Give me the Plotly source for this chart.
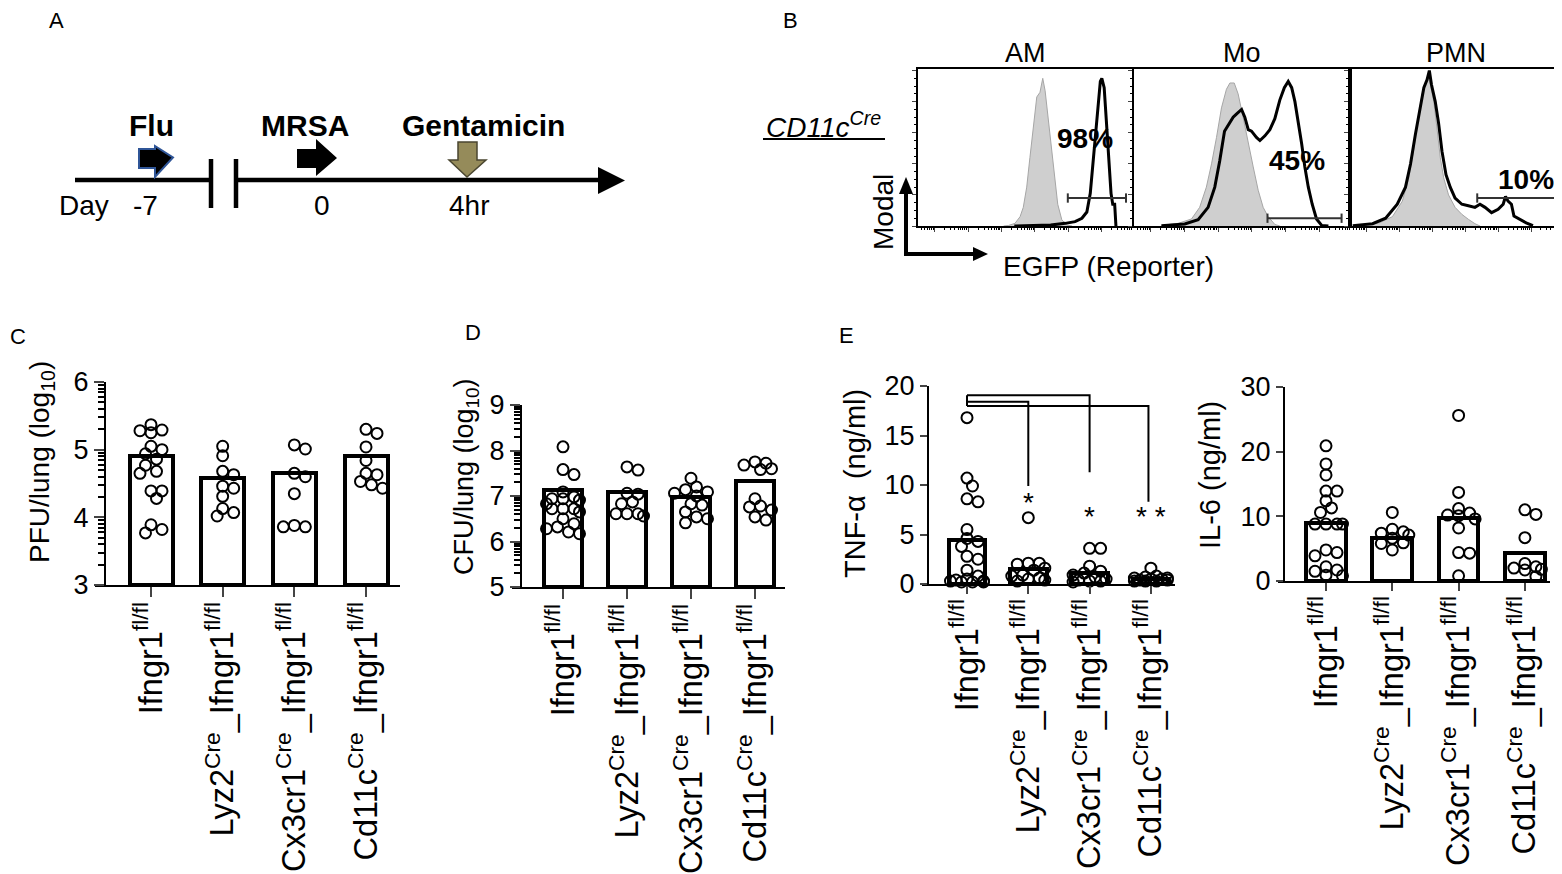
import math

import plotly.graph_objects as go

# the page body has an 8px margin, so the figure is laid out in page pixels
# shifted by that margin
PAGE_W, PAGE_H, PAD = 1562, 874, 8
W, H = PAGE_W - PAD, PAGE_H - PAD
FONT = "Arial, 'Liberation Sans', sans-serif"

# ---- data -------------------------------------------------------------
groups = [
    "Ifngr1<sup>fl/fl</sup>",
    "Lyz2<sup>Cre</sup>_Ifngr1<sup>fl/fl</sup>",
    "Cx3cr1<sup>Cre</sup>_Ifngr1<sup>fl/fl</sup>",
    "Cd11c<sup>Cre</sup>_Ifngr1<sup>fl/fl</sup>",
]

pfu_bars = [4.9, 4.58, 4.65, 4.9]
pfu_points = [
    [5.37, 5.29, 5.28, 5.25, 5.05, 5.0, 4.94, 4.86, 4.77, 4.68, 4.65, 4.39, 4.39, 4.28, 3.89, 3.82, 3.77],
    [5.05, 4.91, 4.68, 4.63, 4.46, 4.43, 4.31, 4.13, 4.07, 4.02],
    [5.07, 5.01, 4.65, 4.6, 4.35, 3.88, 3.86, 3.86],
    [5.3, 5.24, 5.04, 4.84, 4.65, 4.63, 4.53, 4.48, 4.43],
]

cfu_bars = [7.14, 7.08, 6.98, 7.33]
cfu_points = [
    [8.08, 7.58, 7.47, 7.09, 6.98, 6.94, 6.94, 6.91, 6.83, 6.72, 6.72, 6.72, 6.65, 6.5, 6.39, 6.32, 6.28, 6.21, 6.17],
    [7.64, 7.57, 7.06, 7.04, 6.87, 6.83, 6.61, 6.61, 6.61, 6.56],
    [7.39, 7.2, 7.14, 7.09, 7.06, 7.0, 6.83, 6.8, 6.65, 6.54, 6.5, 6.41],
    [7.75, 7.72, 7.68, 7.6, 7.58, 6.94, 6.78, 6.76, 6.69, 6.54, 6.47],
]

tnf_bars = [4.4, 1.5, 1.1, 0.5]
tnf_points = [
    [16.8, 10.7, 9.9, 8.6, 8.3, 5.5, 4.6, 4.3, 3.8, 2.8, 2.5, 1.4, 0.8, 0.5, 0.4, 0.3, 0.3, 0.2, 0.2, 0.2],
    [6.7, 2.1, 2.1, 2.0, 1.6, 1.4, 0.9, 0.8, 0.6, 0.5, 0.4, 0.3],
    [3.6, 3.6, 1.8, 1.3, 1.1, 0.9, 0.7, 0.5, 0.4, 0.3, 0.3, 0.2],
    [1.6, 0.8, 0.7, 0.6, 0.6, 0.5, 0.5, 0.4, 0.4, 0.3, 0.3, 0.3],
]
tnf_stars = ["*", "*", "* *"]

il6_bars = [8.9, 6.6, 9.7, 4.3]
il6_points = [
    [20.9, 18.1, 16.4, 13.9, 13.9, 12.4, 11.3, 10.6, 8.8, 8.8, 8.8, 8.8, 4.8, 4.4, 3.9, 2.2, 1.7, 1.5, 0.9, 0.8],
    [10.6, 8.0, 7.6, 7.4, 7.1, 6.6, 5.9, 5.8, 4.8],
    [25.6, 13.7, 11.2, 10.5, 10.2, 10.1, 9.6, 8.2, 4.4, 4.3, 0.8],
    [11.0, 10.3, 6.7, 2.7, 2.2, 2.0, 1.8, 1.7, 0.7],
]

# flow histograms: x = reporter channel (0-100), y = % of mode
am_ctrl_x = [40, 42.2, 45.3, 47.7, 49.2, 50.8, 52.3, 53.9, 55.5, 57.0, 58.3, 59.4, 60.6, 62.2, 63.8, 65.3, 67.2, 69.5, 72]
am_ctrl_y = [0, 0.3, 1.7, 6, 12, 25, 44, 63, 83, 86, 95, 87, 72, 51, 29, 14, 4, 0.6, 0]
am_rep_x = [45, 55, 62, 68.8, 73.4, 76.6, 78.9, 80.5, 81.6, 82.8, 84.1, 85.2, 85.9, 87.0, 88.0, 89.1, 90.2, 91.0, 91.9, 92.5]
am_rep_y = [0, 0.4, 0.6, 1.7, 2.8, 5, 9, 21, 38, 59, 80, 93, 95, 89, 68, 42, 21, 14, 14, 0]

mo_ctrl_x = [12.7, 20.4, 26.6, 30.4, 33.5, 35.9, 38.2, 40.5, 42.8, 44.4, 46.4, 48.2, 50.5, 52.9, 55.2, 57.5, 59.8, 62.1, 65.2, 67.5]
mo_ctrl_y = [0.4, 1.7, 4.5, 12, 25, 40, 57, 76, 88, 92, 92, 85, 70, 53, 38, 23, 12, 6, 1, 0]
mo_rep_x = [12.7, 23.5, 29.7, 34.3, 37.4, 39.7, 41.9, 43.6, 45.9, 47.4, 49.8, 51.3, 52.9, 54.4, 56.7, 58.3,
            60.6, 62.9, 65.2, 67.5, 69.6, 71.4, 73.0, 74.5, 76.0, 77.6, 79.1, 80.7, 82.5, 84.5, 86.9, 90.0]
mo_rep_y = [0.2, 1.3, 4, 12, 25, 42, 61, 65, 70, 72, 75, 70, 62, 61, 57, 55,
            58, 62, 69, 81, 89, 93, 89, 80, 68, 53, 38, 25, 14, 4.5, 0.4, 0]

pmn_ctrl_x = [6.0, 13.8, 20.1, 24.8, 27.9, 30.3, 32.3, 34.2, 35.7, 37.0, 38.1, 39.7, 41.2, 42.8, 44.4, 46.7, 49.8, 53.0, 56.1, 59.2, 61.6]
pmn_ctrl_y = [0.2, 2, 6, 16, 31, 50, 70, 85, 92, 96, 91, 80, 63, 44, 31, 20, 12, 7.5, 4.3, 1.5, 0]
pmn_rep_x = [1.3, 10.7, 16.9, 22.4, 26.3, 28.7, 31.0, 32.9, 35.0, 36.5, 37.6, 38.6, 40.4, 42.0, 43.6, 45.5, 47.5,
             49.8, 53.0, 56.1, 59.2, 61.6, 64.0, 67.1, 70.2, 72.6, 73.7, 74.9, 76.5, 77.7, 80.4, 83.5, 86.7]
pmn_rep_y = [0.2, 1.5, 5, 14, 25, 40, 59, 74, 89, 94, 100, 91, 80, 66, 48, 33, 25,
             18, 14, 13, 12, 14, 12, 8.6, 10.7, 14, 19, 16, 14, 6.4, 4.3, 2, 0.2]

hist_titles = ["AM", "Mo", "PMN"]
hist_pct = ["98%", "45%", "10%"]
gate_lo = [70, 61.8, 60.3]
gate_hi = [97.2, 96.1, 98.1]


# ---- helpers ----------------------------------------------------------
def px(x):
    return (x - PAD) / W


def py(y):
    return 1 - (y - PAD) / H


def swarm_offsets(vals, ppu_y, ppu_x, diam=11.0, max_px=20.0):
    """Simple beeswarm: spread overlapping points sideways (in pixels)."""
    step = diam * 0.5
    cands = [0.0]
    k = 1
    while k * step <= max_px:
        cands += [k * step, -k * step]
        k += 1
    placed, offs = [], [0.0] * len(vals)
    for i in sorted(range(len(vals)), key=lambda j: -vals[j]):
        yp = vals[i] * ppu_y
        best, best_cost = 0.0, None
        for c in cands:
            cost = sum(max(0.0, diam * 0.8 - math.hypot(p - c, q - yp)) for p, q in placed)
            if best_cost is None or cost < best_cost - 1e-9:
                best, best_cost = c, cost
            if cost == 0:
                break
        placed.append((best, yp))
        offs[i] = best / ppu_x
    return offs


fig = go.Figure()
layout = {}
shapes = []
annotations = []

# bar panels: (x_left, x_right, y_axis_x, first_center, spacing, y_top, y_bottom, ymin, ymax)
panels = [
    dict(box=(95, 400, 105, 151, 71.67, 382, 585, 3, 6), bars=pfu_bars, pts=pfu_points,
         ticks=[3, 4, 5, 6], log_minor=True),
    dict(box=(512, 785, 521, 563, 64.0, 405, 587, 5, 9), bars=cfu_bars, pts=cfu_points,
         ticks=[5, 6, 7, 8, 9], log_minor=True),
    dict(box=(922, 1175, 928, 967, 61.3, 386, 584, 0, 20), bars=tnf_bars, pts=tnf_points,
         ticks=[0, 5, 10, 15, 20], log_minor=False),
    dict(box=(1278, 1550, 1284, 1326, 66.3, 387, 581, 0, 30), bars=il6_bars, pts=il6_points,
         ticks=[0, 10, 20, 30], log_minor=False),
]

for n, p in enumerate(panels, start=1):
    xl, xr, yx, c0, sp, yt, yb, y0, y1 = p["box"]
    sfx = "" if n == 1 else str(n)
    ppu_y = (yb - yt) / (y1 - y0)
    idx = list(range(len(groups)))
    fig.add_trace(go.Bar(
        x=idx, y=[b - y0 for b in p["bars"]], base=y0, width=0.6,
        marker=dict(color="white", line=dict(color="black", width=4)),
        xaxis="x" + sfx, yaxis="y" + sfx, hoverinfo="skip",
    ))
    xs, ys = [], []
    for g, vals in enumerate(p["pts"]):
        offs = swarm_offsets(vals, ppu_y, sp)
        xs += [g + o for o in offs]
        ys += vals
    fig.add_trace(go.Scatter(
        x=xs, y=ys, mode="markers", cliponaxis=False,
        marker=dict(symbol="circle-open", size=11, color="black", line=dict(width=2)),
        xaxis="x" + sfx, yaxis="y" + sfx,
    ))
    layout["xaxis" + sfx] = dict(
        domain=[px(xl), px(xr)], range=[(xl - c0) / sp, (xr - c0) / sp], anchor="y" + sfx,
        tickmode="array", tickvals=idx, ticktext=groups, tickangle=-90,
        tickfont=dict(size=32.5), ticklabelstandoff=-8,
        ticks="outside", ticklen=10 if p["log_minor"] else 8, tickwidth=2,
        showline=True, linewidth=2, linecolor="black",
        showgrid=False, zeroline=False, automargin=False, fixedrange=True,
    )
    yax = dict(
        domain=[py(yb), py(yt)], range=[y0, y1], anchor="free", position=px(yx),
        tickmode="array", tickvals=p["ticks"], tickfont=dict(size=27),
        ticks="outside", ticklen=10 if p["log_minor"] else 7, tickwidth=2,
        showline=True, linewidth=2, linecolor="black",
        showgrid=False, zeroline=False, automargin=False, fixedrange=True,
    )
    if p["log_minor"]:
        yax["minor"] = dict(
            tickmode="array", ticks="outside", ticklen=6, tickwidth=1.5, tickcolor="black",
            tickvals=[d + math.log10(m) for d in range(y0, y1) for m in range(2, 10)],
        )
    layout["yaxis" + sfx] = yax

# significance brackets on TNF panel
br_h = [18.4, 19.06, 17.98]
br_low = [9.9, 11.3, 8.3]
shapes.append(dict(type="line", xref="x3", yref="y3", x0=0, x1=0, y0=17.98, y1=19.06,
                   line=dict(color="black", width=2)))
for j in range(3):
    xe = j + 1 - 0.04 * (j == 2)
    shapes.append(dict(type="path", xref="x3", yref="y3",
                       path=f"M 0,{br_h[j]} L {xe},{br_h[j]} L {xe},{br_low[j]}",
                       line=dict(color="black", width=2)))
star_y = [8.2, 6.8, 6.8]
for j, s in enumerate(tnf_stars):
    annotations.append(dict(xref="x3", yref="y3", x=j + 1, y=star_y[j], text=s, showarrow=False,
                            xanchor="center", yanchor="middle", font=dict(size=28)))

# flow histograms
hist_boxes = [(918, 1132), (1134, 1350), (1350, 1561)]
hist_data = [
    (am_ctrl_x, am_ctrl_y, am_rep_x, am_rep_y),
    (mo_ctrl_x, mo_ctrl_y, mo_rep_x, mo_rep_y),
    (pmn_ctrl_x, pmn_ctrl_y, pmn_rep_x, pmn_rep_y),
]
pct_pos = [(78, 56), (75.3, 42), (83.5, 30)]
gate_y = [18, 5, 18]
dec = 15.6
x_major = [7.8 + dec * k for k in range(6)]
x_minor = [7.8 + dec * k + dec * math.log10(m) for k in range(-1, 6) for m in range(2, 10)]
x_minor = [v for v in x_minor if 0 < v < 100]
for i, ((hl, hr), (cx, cy, rx, ry)) in enumerate(zip(hist_boxes, hist_data)):
    sfx = str(5 + i)
    fig.add_trace(go.Scatter(x=cx, y=cy, mode="lines", fill="tozeroy", fillcolor="#cfcfcf",
                             line=dict(color="#a6a6a6", width=1), xaxis="x" + sfx, yaxis="y" + sfx))
    fig.add_trace(go.Scatter(x=rx, y=ry, mode="lines", line=dict(color="black", width=3),
                             xaxis="x" + sfx, yaxis="y" + sfx))
    layout["xaxis" + sfx] = dict(
        domain=[px(hl), px(hr)], range=[0, 100], anchor="y" + sfx,
        showline=True, mirror=True, linecolor="black", linewidth=1.5,
        tickmode="array", tickvals=x_major, ticks="outside", ticklen=4, tickwidth=1,
        minor=dict(tickmode="array", tickvals=x_minor, ticks="outside", ticklen=2, tickwidth=1,
                   tickcolor="black"),
        showticklabels=False, showgrid=False, zeroline=False, fixedrange=True,
    )
    layout["yaxis" + sfx] = dict(
        domain=[py(226), py(69)], range=[0, 101], anchor="x" + sfx,
        showline=True, mirror=True, linecolor="black", linewidth=1.5,
        tickmode="linear", tick0=0, dtick=20, ticks="outside", ticklen=4, tickwidth=1,
        minor=dict(dtick=5, ticks="outside", ticklen=2, tickwidth=1, tickcolor="black"),
        showticklabels=False, showgrid=False, zeroline=False, fixedrange=True,
    )
    shapes.append(dict(type="line", xref="x" + sfx, yref="y" + sfx, x0=gate_lo[i], x1=gate_hi[i],
                       y0=gate_y[i], y1=gate_y[i], line=dict(color="#333333", width=2)))
    for gx in (gate_lo[i], gate_hi[i]):
        shapes.append(dict(type="line", xref="x" + sfx, yref="y" + sfx, x0=gx, x1=gx,
                           y0=gate_y[i] - 3, y1=gate_y[i] + 3, line=dict(color="#333333", width=2)))
    annotations.append(dict(xref="x" + sfx, yref="y" + sfx, x=pct_pos[i][0], y=pct_pos[i][1],
                            text="<b>" + hist_pct[i] + "</b>", showarrow=False,
                            xanchor="center", yanchor="middle", font=dict(size=28)))
    annotations.append(dict(xref="paper", yref="paper", x=px((hl + hr) / 2), y=py(53),
                            text=hist_titles[i], showarrow=False,
                            xanchor="center", yanchor="middle", font=dict(size=27)))


def label(x, y, text, size=28, angle=0, xanchor="center"):
    annotations.append(dict(xref="paper", yref="paper", x=px(x), y=py(y), text=text,
                            showarrow=False, textangle=angle, font=dict(size=size),
                            xanchor=xanchor, yanchor="middle"))


def poly(points, fill, line_color="black", width=0):
    path = "M " + " L ".join(f"{px(a)},{py(b)}" for a, b in points) + " Z"
    shapes.append(dict(type="path", xref="paper", yref="paper", path=path, fillcolor=fill,
                       line=dict(color=line_color, width=width)))


def seg(x0, y0, x1, y1, width=4.5, color="black"):
    shapes.append(dict(type="line", xref="paper", yref="paper", x0=px(x0), y0=py(y0),
                       x1=px(x1), y1=py(y1), line=dict(color=color, width=width)))


# panel letters
for t, (x, y) in zip("ABDE", [(57, 21), (790, 21), (473, 332), (847, 335)]):
    label(x, y, t, size=22)
label(PAD, 336, "C", size=22, xanchor="left")

# panel A timeline
seg(75, 180, 211, 180)
seg(211, 159, 211, 208)
seg(236, 159, 236, 208)
seg(236, 180, 602, 180)
poly([(598, 167), (625, 180.5), (598, 194)], "black")
poly([(139, 149), (155, 149), (155, 146), (173, 157.5), (155, 177), (155, 168), (139, 168)],
     "black", "#2f5597", 2)
poly([(297, 149), (316, 149), (316, 139), (337, 158), (316, 176), (316, 168), (297, 168)], "black")
poly([(458, 142), (477, 142), (477, 160), (486, 160), (467, 177), (449, 160), (458, 160)],
     "#958b5a", "#4a4630", 1.5)
label(151, 125, "<b>Flu</b>", 30)
label(305, 125, "<b>MRSA</b>", 30)
label(484, 125, "<b>Gentamicin</b>", 30)
label(84, 205, "Day", 28)
label(145, 205, "-7", 28)
label(322, 205, "0", 28)
label(469, 205, "4hr", 28)

# panel B labels and axis arrows
label(824, 125, "<i>CD11c<sup>Cre</sup></i>", 28)
seg(763, 139, 885, 139, width=2)
label(883, 212, "Modal", 28, angle=-90)
seg(906, 256, 906, 192, width=4)
poly([(899, 194), (913, 194), (906, 177)], "black")
seg(904, 254, 975, 254, width=4)
poly([(973, 247), (973, 261), (988, 254)], "black")
label(1108, 266, "EGFP (Reporter)", 28)

# axis titles of bar panels
label(41, 462, "PFU/lung (log<sub>10</sub>)", 28, angle=-90)
label(466, 477, "CFU/lung (log<sub>10</sub>)", 27, angle=-90)
label(855, 484, "TNF-α  (ng/ml)", 29, angle=-90)
label(1210, 475, "IL-6 (ng/ml)", 29, angle=-90)

fig.update_layout(
    **layout,
    width=W, height=H, margin=dict(l=0, r=0, t=0, b=0),
    paper_bgcolor="white", plot_bgcolor="white",
    font=dict(family=FONT, color="black"),
    showlegend=False, bargap=0,
    shapes=shapes, annotations=annotations,
)

fig.write_html("out.html")
